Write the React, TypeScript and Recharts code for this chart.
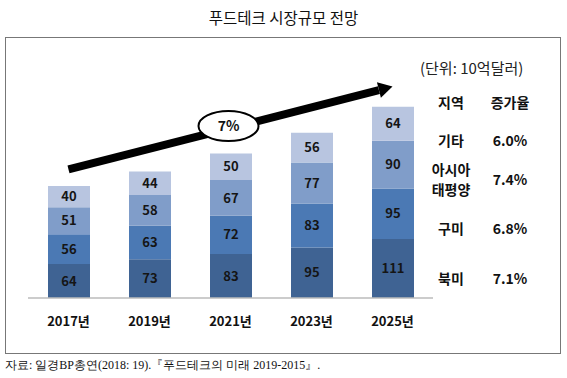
import React from 'react';
import { BarChart, Bar, XAxis, YAxis, LabelList, ReferenceLine } from 'recharts';

// 연도
const years = ['2017년', '2019년', '2021년', '2023년', '2025년'];
// 지역별 시장규모 (단위: 10억달러)
const northAmerica = [64, 73, 83, 95, 111];
const europe = [56, 63, 72, 83, 95];
const asiaPacific = [51, 58, 67, 77, 90];
const others = [40, 44, 50, 56, 64];
// 오른쪽 표
const regionNames = ['기타', '아시아\n태평양', '구미', '북미'];
const growthRates = ['6.0%', '7.4%', '6.8%', '7.1%'];
const totalGrowth = '7%';

const data = years.map((year, i) => ({
  year,
  na: northAmerica[i],
  eu: europe[i],
  ap: asiaPacific[i],
  etc: others[i],
}));

const FONT = '"Noto Sans CJK KR", "Noto Sans", sans-serif';
const labelStyle = { fill: '#151515', fontSize: 13, fontWeight: 700, fontFamily: FONT };

// 화살표 + 타원
const ArrowShape = (props: any) => {
  const { x1, y1, x2, y2 } = props;
  const dx = x2 - x1;
  const dy = y2 - y1;
  const len = Math.sqrt(dx * dx + dy * dy);
  const ux = dx / len;
  const uy = dy / len;
  const head = 14;
  const bx = x2 - ux * head;
  const by = y2 - uy * head;
  const hw = 8;
  const mx = (x1 + x2) / 2 - 2;
  const my = (y1 + y2) / 2 - 2;
  return (
    <g>
      <line x1={x1} y1={y1} x2={bx} y2={by} stroke="#000" strokeWidth={8} />
      <polygon
        points={`${x2},${y2} ${bx - uy * hw},${by + ux * hw} ${bx + uy * hw},${by - ux * hw}`}
        fill="#000"
      />
      <ellipse cx={mx} cy={my} rx={30} ry={15} fill="#fff" stroke="#000" strokeWidth={2} />
      <text x={mx} y={my + 5} textAnchor="middle" fontSize={14} fontWeight={700} fontFamily={FONT} fill="#111">
        {totalGrowth}
      </text>
    </g>
  );
};

const rowY = [140, 179, 228, 278];

export default function App() {
  return (
    <div style={{ position: 'absolute', left: 0, top: 0, width: 567, height: 378, background: '#fff', fontFamily: FONT }}>
      <div style={{ position: 'absolute', left: 0, top: 6, width: 567, textAlign: 'center', fontSize: 15.5, color: '#111' }}>
        푸드테크 시장규모 전망
      </div>
      <div style={{ position: 'absolute', left: 5, top: 37, width: 554, height: 315, border: '1.5px solid #777' }} />
      <div style={{ position: 'absolute', left: 5, top: 357, fontSize: 12, color: '#111', fontFamily: '"Liberation Serif", serif' }}>
        자료: 일경BP총연(2018: 19).『푸드테크의 미래 2019-2015』.
      </div>
      <div style={{ position: 'absolute', left: 0, top: 0 }}>
        <BarChart
          width={567}
          height={378}
          data={data}
          margin={{ top: 59, right: 134, bottom: 50, left: 28 }}
          barSize={42}
        >
          <YAxis hide domain={[0, 450]} />
          <XAxis
            dataKey="year"
            axisLine={{ stroke: '#bbb', strokeWidth: 1.5 }}
            tickLine={false}
            tickMargin={13}
            tick={{ fill: '#111', fontSize: 13, fontWeight: 700, fontFamily: FONT }}
          />
          <Bar dataKey="na" stackId="a" fill="#3f6393" isAnimationActive={false}>
            <LabelList dataKey="na" position="center" style={labelStyle} />
          </Bar>
          <Bar dataKey="eu" stackId="a" fill="#4b79b4" isAnimationActive={false}>
            <LabelList dataKey="eu" position="center" style={labelStyle} />
          </Bar>
          <Bar dataKey="ap" stackId="a" fill="#809dc9" isAnimationActive={false}>
            <LabelList dataKey="ap" position="center" style={labelStyle} />
          </Bar>
          <Bar dataKey="etc" stackId="a" fill="#b8c5e0" isAnimationActive={false}>
            <LabelList dataKey="etc" position="center" style={labelStyle} />
          </Bar>
          <ReferenceLine
            segment={[{ x: '2017년', y: 242 }, { x: '2025년', y: 398 }]}
            ifOverflow="visible"
            shape={ArrowShape}
          />
        </BarChart>
      </div>
      <div style={{ position: 'absolute', left: 420, top: 57, fontSize: 15, color: '#222' }}>(단위: 10억달러)</div>
      <div style={{ position: 'absolute', left: 421, top: 92, width: 60, textAlign: 'center', fontSize: 14, fontWeight: 700, color: '#111' }}>지역</div>
      <div style={{ position: 'absolute', left: 480, top: 92, width: 60, textAlign: 'center', fontSize: 14, fontWeight: 700, color: '#111' }}>증가율</div>
      {regionNames.map((name, i) => (
        <React.Fragment key={name}>
          <div
            style={{
              position: 'absolute', left: 421, top: rowY[i], width: 60, textAlign: 'center',
              fontSize: 14, fontWeight: 700, color: '#111', whiteSpace: 'pre', lineHeight: '20px',
              transform: 'translateY(-50%)',
            }}
          >
            {name}
          </div>
          <div
            style={{
              position: 'absolute', left: 480, top: rowY[i], width: 60, textAlign: 'center',
              fontSize: 14, fontWeight: 700, color: '#111', lineHeight: '20px', transform: 'translateY(-50%)',
            }}
          >
            {growthRates[i]}
          </div>
        </React.Fragment>
      ))}
    </div>
  );
}
